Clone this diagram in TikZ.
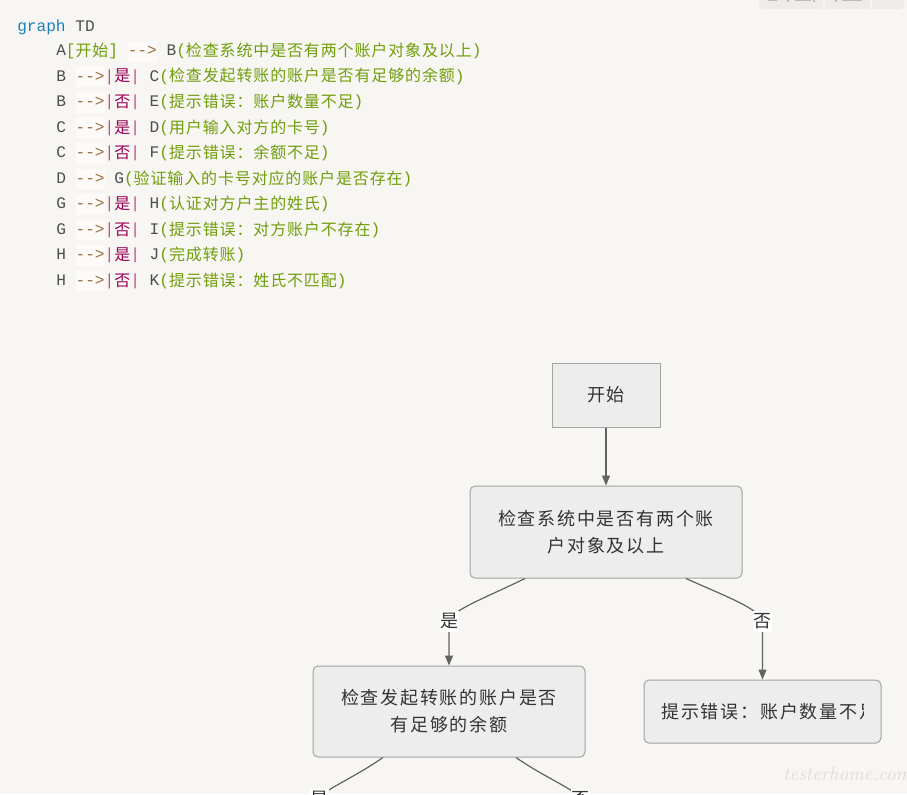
\documentclass[tikz,border=0pt]{standalone}
\usepackage{fontspec}
\usetikzlibrary{arrows.meta}
\newfontfamily\monof{Liberation Mono}
\newfontfamily\cjkf[LetterSpace=5.4]{Noto Sans CJK SC}
\newfontfamily\dgf[LetterSpace=10]{Noto Sans CJK SC}
\definecolor{bg}{HTML}{F7F6F3}
\definecolor{tbbg}{HTML}{EDECE8}
\definecolor{tbmark}{HTML}{BDBCB8}
\definecolor{ckw}{HTML}{1A80B6}
\definecolor{cid}{HTML}{4D4D4D}
\definecolor{cstr}{HTML}{6F9E0C}
\definecolor{cop}{HTML}{9A6E3A}
\definecolor{copbg}{HTML}{FCFBFA}
\definecolor{cpipe}{HTML}{C0508A}
\definecolor{cval}{HTML}{990055}
\definecolor{nfill}{HTML}{EDEDED}
\definecolor{nline}{HTML}{A3A3A3}
\definecolor{edgec}{HTML}{626262}
\definecolor{txt}{HTML}{333333}
\definecolor{wm}{HTML}{DEDBD6}
\newcommand\czh[1]{\raisebox{-0.7pt}{\fontsize{12pt}{14pt}\cjkf #1}}
\newcommand\ckwd[1]{\textcolor{ckw}{#1}}
\newcommand\cident[1]{\textcolor{cid}{#1}}
\newcommand\cstring[1]{{\color{cstr}#1}}
\newcommand\cop[1]{{\setlength{\fboxsep}{0pt}\colorbox{copbg}{\rule[-4.5pt]{0pt}{15.5pt}\textcolor{cop}{#1}}}}
\newcommand\clab[1]{\textcolor{cpipe}{|}\textcolor{cval}{\czh{#1}}\textcolor{cpipe}{|}}
\newcommand\carr{\cop{-{}-{}>}}
\begin{document}
\begin{tikzpicture}[x=0.75pt,y=-0.75pt,
  codeline/.style={anchor=base west, inner sep=0pt, font=\fontsize{12.1pt}{14pt}\monof},
  box/.style={draw=nline, fill=nfill, line width=0.75pt, inner sep=0pt, text=txt,
    font=\fontsize{13.5pt}{20.25pt}\dgf, align=center},
  rbox/.style={box, rounded corners=3.75pt},
  edge/.style={draw=edgec, line width=0.9pt, -{Triangle[length=7.5pt,width=6pt]}},
  plainedge/.style={draw=edgec, line width=0.9pt},
  elab/.style={fill=white, inner sep=0pt, minimum width=14.25pt, minimum height=15.75pt,
    text=txt, font=\fontsize{13.5pt}{16pt}\dgf},
  dtext/.style={inner sep=0pt, text=txt, font=\fontsize{13.5pt}{20.25pt}\dgf},
]
\useasboundingbox (0,0) rectangle (907,794);
\clip (0,0) rectangle (907,794);
\fill[bg] (0,0) rectangle (907,794);

% toolbar remnant (top right)
\fill[tbbg, rounded corners=3pt] (759,-8) rectangle (904,9);
\draw[bg, line width=1.1pt] (824,-1) -- (824,9);
\draw[bg, line width=1.1pt] (871,-1) -- (871,9);
\fill[tbmark] (768,0) rectangle (777,1.2);
\fill[tbmark] (787,0) rectangle (789,1.5);
\fill[tbmark] (795,0) rectangle (811,0.8);
\fill[tbmark] (813,0) rectangle (815,1.5);
\fill[tbmark] (835,0) rectangle (837,1.5);
\fill[tbmark] (842,0) rectangle (862,1.2);

% code
\node[codeline] (l0) at (17,31) {\ckwd{graph} \cident{TD}};
\node[codeline] (l1) at (56,55.5) {\cident{A}\cstring{[\czh{开始}]} \carr{} \cident{B}\cstring{(\czh{检查系统中是否有两个账户对象及以上})}};
\node[codeline] (l2) at (56,81.05) {\cident{B} \carr\clab{是} \cident{C}\cstring{(\czh{检查发起转账的账户是否有足够的余额})}};
\node[codeline] (l3) at (56,106.6) {\cident{B} \carr\clab{否} \cident{E}\cstring{(\czh{提示错误：账户数量不足})}};
\node[codeline] (l4) at (56,132.15) {\cident{C} \carr\clab{是} \cident{D}\cstring{(\czh{用户输入对方的卡号})}};
\node[codeline] (l5) at (56,157.7) {\cident{C} \carr\clab{否} \cident{F}\cstring{(\czh{提示错误：余额不足})}};
\node[codeline] (l6) at (56,183.25) {\cident{D} \carr{} \cident{G}\cstring{(\czh{验证输入的卡号对应的账户是否存在})}};
\node[codeline] (l7) at (56,208.8) {\cident{G} \carr\clab{是} \cident{H}\cstring{(\czh{认证对方户主的姓氏})}};
\node[codeline] (l8) at (56,234.35) {\cident{G} \carr\clab{否} \cident{I}\cstring{(\czh{提示错误：对方账户不存在})}};
\node[codeline] (l9) at (56,259.9) {\cident{H} \carr\clab{是} \cident{J}\cstring{(\czh{完成转账})}};
\node[codeline] (l10) at (56,285.45) {\cident{H} \carr\clab{否} \cident{K}\cstring{(\czh{提示错误：姓氏不匹配})}};

% diagram nodes
\node[box, minimum width=81pt, minimum height=48pt] (A) at (606,395) {开始};
\node[rbox, minimum width=204pt, minimum height=69pt] (B) at (606,532) {检查系统中是否有两个账\\户对象及以上};
\node[rbox, minimum width=204pt, minimum height=68.25pt] (C) at (449,711.5) {检查发起转账的账户是否\\有足够的余额};
\node[rbox, minimum width=177.75pt, minimum height=47.25pt] (E) at (762.5,711.5) {};
\begin{scope}
  \clip (644,680) rectangle (863,743);
  \node[dtext, anchor=west] (Et) at (661,711.5) {提示错误：账户数量不足};
\end{scope}

% edge anchor points
\path (B.south) ++(-81,0) coordinate (b1);
\path (B.south) ++(80,0) coordinate (b2);
\path (C.south) ++(-66,0) coordinate (c1);
\path (C.south) ++(67,0) coordinate (c2);
\coordinate (p1) at (449,621);
\coordinate (p2) at (762.5,621);
\coordinate (p3) at (319,799);
\coordinate (p4) at (580,799);

% edges
\draw[edge] (A) -- (B);
\draw[edge] (b1) .. controls (485,598) and (452,610) .. (p1) -- (C.north);
\draw[edge] (b2) .. controls (725,596) and (760,609) .. (p2) -- (E.north);
\draw[plainedge] (c1) .. controls (352,779) and (323,790) .. (p3);
\draw[plainedge] (c2) .. controls (547,779) and (577,790) .. (p4);

% edge labels
\node[elab] (y1) at (p1) {是};
\node[elab] (n1) at (p2) {否};
\node[elab] (y2) at (p3) {是};
\node[elab] (n2) at (p4) {否};

% watermark
\node[anchor=base west, inner sep=0pt, text=wm, font=\fontsize{14.5pt}{16pt}\itshape] (wmk) at (783,780) {testerhome.com};
\end{tikzpicture}
\end{document}
